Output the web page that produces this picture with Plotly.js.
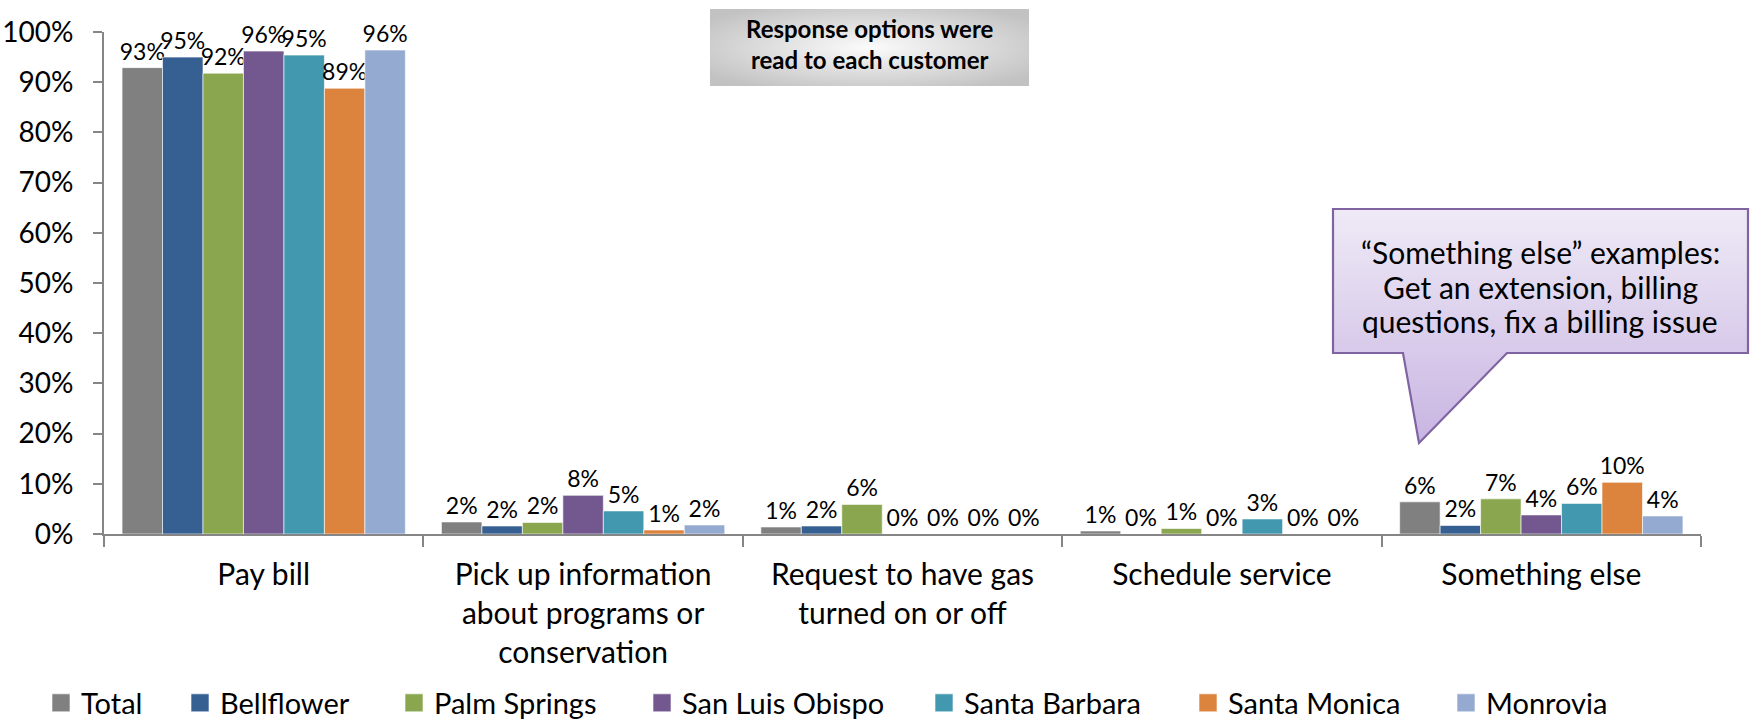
<!DOCTYPE html>
<html>
<head>
<meta charset="utf-8">
<script src="https://cdn.plot.ly/plotly-3.0.1.min.js"></script>
<style>
html,body{margin:0;padding:0;background:#fff;}
#chart{width:1750px;height:719px;}
</style>
</head>
<body>
<div id="chart"></div>
<script>
// ---- Data ----
const categories = [
  "Pay bill",
  "Pick up information<br>about programs or<br>conservation",
  "Request to have gas<br>turned on or off",
  "Schedule service",
  "Something else"
];
const seriesNames = ["Total", "Bellflower", "Palm Springs", "San Luis Obispo", "Santa Barbara", "Santa Monica", "Monrovia"];
const total         = [92.9, 2.4, 1.4, 0.6, 6.4];
const bellflower    = [95.0, 1.6, 1.6, 0.0, 1.7];
const palmSprings   = [91.8, 2.3, 5.9, 1.1, 7.0];
const sanLuisObispo = [96.2, 7.7, 0.0, 0.0, 3.8];
const santaBarbara  = [95.4, 4.6, 0.0, 3.0, 6.1];
const santaMonica   = [88.8, 0.8, 0.0, 0.0, 10.3];
const monrovia      = [96.4, 1.8, 0.0, 0.0, 3.6];
const seriesValues = [total, bellflower, palmSprings, sanLuisObispo, santaBarbara, santaMonica, monrovia];
const seriesColors = ["#808080", "#366092", "#8aa74f", "#72588f", "#4298af", "#dc843e", "#94aad1"];

const boxText = "<b>Response options were<br>read to each customer</b>";
const calloutLines = ["\u201cSomething else\u201d examples:", "Get an extension, billing", "questions, fix a billing issue"];

// ---- Geometry (pixels) ----
const W = 1750, H = 719;
const L = 104, R = 1701, T = 32, B = 534;
const PW = R - L, PH = B - T;
const px2x = p => (p - L) / PW;
const py2y = p => (B - p) / PH;

const FONT = "Lato, 'Open Sans', sans-serif";

const legendLefts = [52, 191, 405, 653, 935, 1199, 1457];

const traces = seriesNames.map((n, i) => ({
  type: "bar",
  name: n,
  x: categories,
  y: seriesValues[i],
  marker: {color: seriesColors[i], line: {color: "rgba(255,255,255,0.6)", width: 1}},
  texttemplate: "%{y:.0f}%",
  textposition: "outside",
  textfont: {family: FONT, size: 23, color: "#000"},
  constraintext: "none",
  cliponaxis: false,
  hoverinfo: "skip",
  legend: i === 0 ? "legend" : "legend" + (i + 1)
}));

const boxSvg = "<svg xmlns='http://www.w3.org/2000/svg' width='319' height='77' viewBox='0 0 319 77' preserveAspectRatio='none'>" +
  "<defs><radialGradient id='g' cx='50%' cy='50%' r='62%'><stop offset='0' stop-color='#fbfbfb'/><stop offset='1' stop-color='#c2c2c2'/></radialGradient></defs>" +
  "<rect x='0' y='0' width='319' height='77' fill='url(#g)'/></svg>";

const cx0 = 1330, cy0 = 205, cw = 422, ch = 242;
const pts = [[1333,209],[1748,209],[1748,353],[1507,353],[1419,443],[1403,353],[1333,353]]
  .map(p => (p[0]-cx0) + "," + (p[1]-cy0)).join(" ");
const calloutSvg = "<svg xmlns='http://www.w3.org/2000/svg' width='" + cw + "' height='" + ch + "' viewBox='0 0 " + cw + " " + ch + "' preserveAspectRatio='none'>" +
  "<defs><linearGradient id='p' x1='0' y1='0' x2='0' y2='1'><stop offset='0' stop-color='#efeaf6'/><stop offset='1' stop-color='#c8b5e2'/></linearGradient></defs>" +
  "<polygon points='" + pts + "' fill='url(#p)' stroke='#8064a2' stroke-width='2.2' stroke-linejoin='miter'/></svg>";

const svgURI = s => "data:image/svg+xml;charset=utf-8," + encodeURIComponent(s);

const calloutY = [252, 287, 321];

const layout = {
  width: W, height: H,
  margin: {l: L, r: W - R, t: T, b: H - B, pad: 0, autoexpand: false},
  paper_bgcolor: "#fff", plot_bgcolor: "#fff",
  font: {family: FONT, color: "#000"},
  barmode: "group",
  bargap: 0.113,
  bargroupgap: 0,
  showlegend: true,
  xaxis: {
    type: "category",
    showgrid: false,
    showline: true, linecolor: "#868686", linewidth: 2,
    ticks: "outside", ticklen: 11, tickcolor: "#868686", tickwidth: 2,
    tickson: "boundaries",
    tickfont: {family: FONT, size: 30, color: "#000"},
    ticklabelstandoff: 13,
    automargin: false,
    zeroline: false, fixedrange: true
  },
  yaxis: {
    range: [0, 100],
    dtick: 10, tick0: 0,
    ticksuffix: "%",
    showgrid: false, zeroline: false,
    showline: true, linecolor: "#868686", linewidth: 2,
    ticks: "outside", ticklen: 9, tickcolor: "#868686", tickwidth: 2,
    tickfont: {family: FONT, size: 28, color: "#000"},
    ticklabelstandoff: 14,
    automargin: false,
    fixedrange: true
  },
  images: [
    {source: svgURI(boxSvg), xref: "paper", yref: "paper",
     x: px2x(710), y: py2y(9), sizex: 319 / PW, sizey: 77 / PH,
     xanchor: "left", yanchor: "top", sizing: "stretch", layer: "above"},
    {source: svgURI(calloutSvg), xref: "paper", yref: "paper",
     x: px2x(cx0), y: py2y(cy0), sizex: cw / PW, sizey: ch / PH,
     xanchor: "left", yanchor: "top", sizing: "stretch", layer: "above"}
  ],
  annotations: [
    {text: boxText, xref: "paper", yref: "paper", x: px2x(869.5), y: py2y(44),
     xanchor: "center", yanchor: "middle", showarrow: false, align: "center",
     font: {family: FONT, size: 24, color: "#000"}}
  ].concat(calloutLines.map((t, i) => ({
    text: t, xref: "paper", yref: "paper", x: px2x(1540), y: py2y(calloutY[i]),
    xanchor: "center", yanchor: "middle", showarrow: false, align: "center",
    font: {family: FONT, size: 30, color: "#000"}
  })))
};

seriesNames.forEach((n, i) => {
  const key = i === 0 ? "legend" : "legend" + (i + 1);
  layout[key] = {
    orientation: "h",
    x: px2x(legendLefts[i] - 11), y: py2y(703),
    xanchor: "left", yanchor: "middle",
    font: {family: FONT, size: 29, color: "#000"},
    bgcolor: "rgba(0,0,0,0)", borderwidth: 0
  };
});

Plotly.newPlot("chart", traces, layout, {displayModeBar: false, staticPlot: true}).then(gd => {
  // enlarge the legend swatches to match the reference's square keys
  gd.querySelectorAll(".legendpoints path").forEach(p => {
    p.setAttribute("d", "M9,9H-9V-9H9Z");
  });
});
</script>
</body>
</html>
